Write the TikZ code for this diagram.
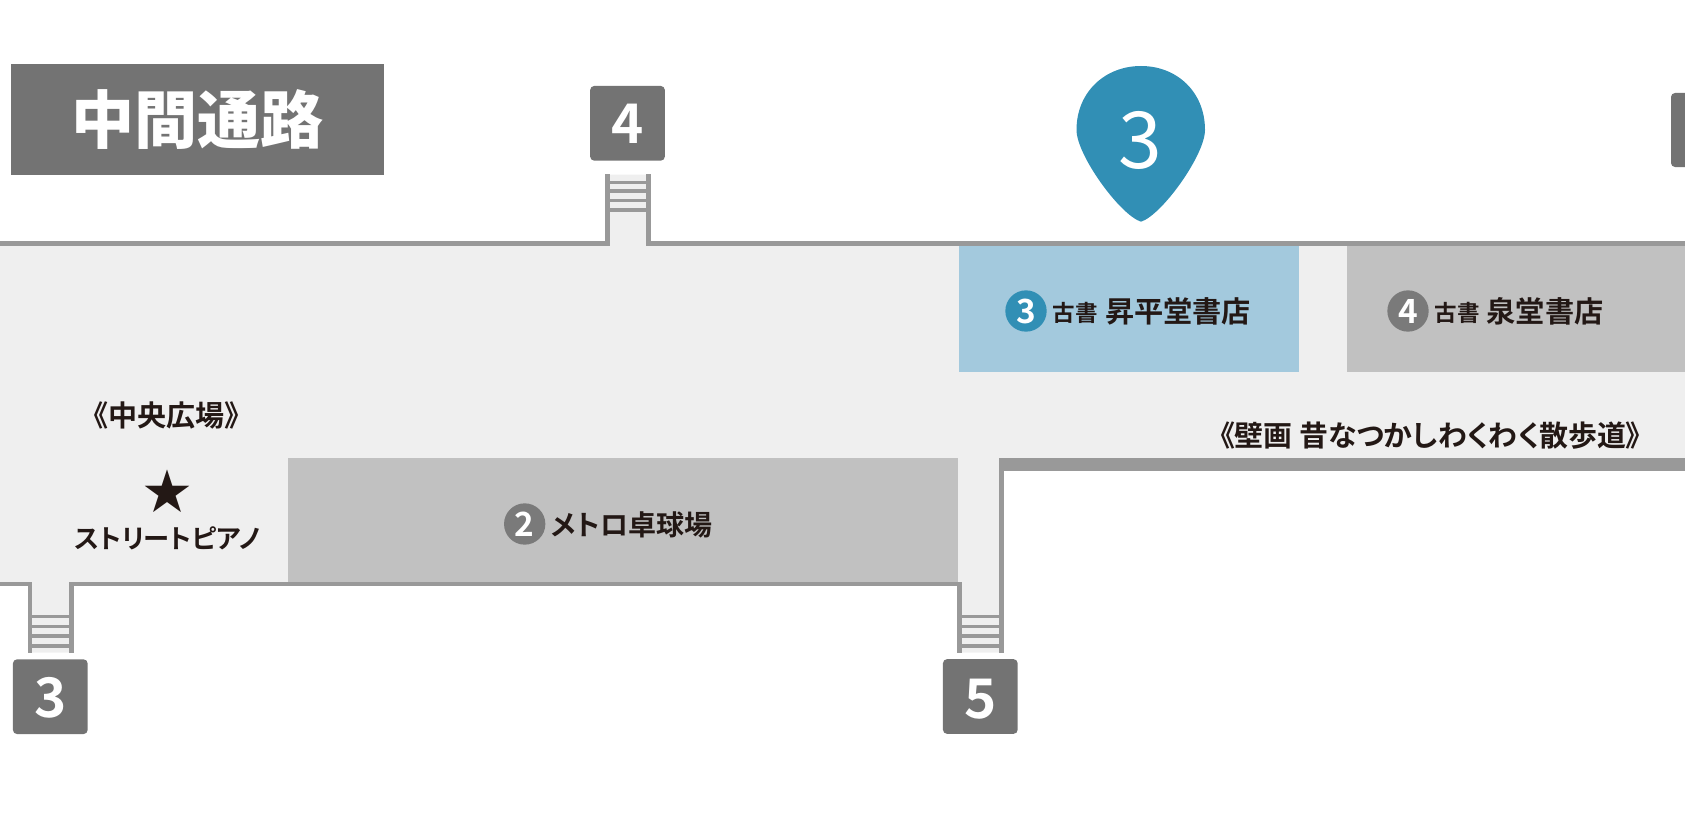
\documentclass[tikz,border=0pt]{standalone}
\usepackage{fontspec}
\setmainfont{Noto Sans CJK JP}[BoldFont={* Bold},RawFeature=+palt]
\newfontfamily\titlefont{Noto Sans CJK JP Black}
\definecolor{pinblue}{HTML}{318FB5}
\definecolor{roomblue}{HTML}{A3C9DD}
\definecolor{roomgray}{HTML}{C1C1C1}
\definecolor{floorgray}{HTML}{EFEFEF}
\definecolor{wallgray}{HTML}{999999}
\definecolor{exitgray}{HTML}{737373}
\definecolor{markgray}{HTML}{7A7A7A}
\definecolor{inkblack}{HTML}{231815}

\begin{document}
\begin{tikzpicture}[x=0.75pt, y=-0.75pt]
    \tikzset{wall/.style={draw=wallgray, line width=3.6pt, line join=miter}}
    \tikzset{rung/.style={draw=wallgray, line width=2.4pt}}
    \tikzset{room/.style={fill=roomgray}}
    \tikzset{exitbox/.style={fill=exitgray, rounded corners=3pt, minimum width=56pt, minimum height=56pt, inner sep=0pt, text=white, font=\fontsize{41}{41}\selectfont\bfseries}}
    \tikzset{markdot/.style={circle, fill=markgray, minimum size=31pt, inner sep=0pt, text=white, font=\fontsize{25}{25}\selectfont\bfseries}}
    \tikzset{small/.style={inner sep=0pt, text=inkblack, font=\fontsize{16.9}{16.9}\selectfont\bfseries}}
    \tikzset{shop/.style={inner sep=0pt, text=inkblack, font=\fontsize{21.9}{21.9}\selectfont\bfseries}}

    % page
    \useasboundingbox (0,0) rectangle (1685,817);
    \clip (0,0) rectangle (1685,817);

    % floor
    \fill[floorgray] (0,245) -- (609,245) -- (609,174.5) -- (647,174.5) -- (647,245) -- (1685,245)
      -- (1685,458) -- (1001,458) -- (1001,652.5) -- (960,652.5) -- (960,583) -- (71,583)
      -- (71,652.5) -- (30,652.5) -- (30,583) -- (0,583) -- cycle;

    % rooms
    \fill[roomblue] (959,245.7) rectangle (1298.5,371.7);
    \fill[room] (1346.5,245.7) rectangle (1685,371.7);
    \fill[room] (288,458) rectangle (957.5,582);

    % walls
    \draw[wall] (0,243.4) -- (607.3,243.4) -- (607.3,174.3);
    \draw[wall] (1685,243.4) -- (648.7,243.4) -- (648.7,174.3);
    \draw[wall] (0,584) -- (29.9,584) -- (29.9,652.5);
    \draw[wall] (71.4,652.5) -- (71.4,584) -- (959.8,584) -- (959.8,652.5);
    \draw[wall] (1001.2,652.5) -- (1001.2,464);
    \fill[wallgray] (998.7,457.7) rectangle (1685,470.7);

    % stairs
    \draw[rung] (609,182.7) -- (647,182.7);
    \draw[rung] (609,191) -- (647,191);
    \draw[rung] (609,200.3) -- (647,200.3);
    \draw[rung] (609,210) -- (647,210);
    \draw[rung] (32,616.7) -- (69,616.7);
    \draw[rung] (32,626.3) -- (69,626.3);
    \draw[rung] (32,636) -- (69,636);
    \draw[rung] (32,646) -- (69,646);
    \draw[rung] (962,616.7) -- (999,616.7);
    \draw[rung] (962,626.3) -- (999,626.3);
    \draw[rung] (962,636) -- (999,636);
    \draw[rung] (962,646) -- (999,646);

    % title
    \node (title) at (197.3,119.3) [fill=exitgray, minimum width=279.5pt, minimum height=83pt, inner sep=0pt,
      text=white, font=\fontsize{47.3}{47.3}\titlefont] {中間通路};

    % exits
    \node (exit4) at (627.5,123.3) [exitbox] {4};
    \node (exit3) at (50.3,696.7) [exitbox, text height=32pt] {3};
    \node (exit5) at (980.3,696.5) [exitbox, text height=33pt] {5};
    \fill[exitgray, rounded corners=3pt] (1690,93) -- (1671,93) -- (1671,167) -- (1690,167) -- cycle;

    % pin
    \fill[pinblue] (1141,221.7) .. controls (1120,215) and (1076.5,155) .. (1076.5,130)
      .. controls (1076.5,92) and (1105,66) .. (1141,66)
      .. controls (1177,66) and (1205,92) .. (1205,130)
      .. controls (1205,155) and (1162,215) .. (1141,221.7) -- cycle;
    \node (pin3) at (1140,140) [inner sep=0pt, text=white, font=\fontsize{59}{59}\selectfont] {3};

    % shop 3
    \node (mark3) at (1026,311) [markdot, fill=pinblue] {3};
    \node (old3) at (1075,313) [small] {古書};
    \node (shop3) at (1178,311.5) [shop] {昇平堂書店};

    % shop 4
    \node (mark4) at (1408,311) [markdot] {4};
    \node (old4) at (1457.5,313) [small] {古書};
    \node (shop4) at (1545,311.5) [shop] {泉堂書店};

    % table tennis
    \node (mark2) at (524.7,524) [markdot] {2};
    \node (shop2) at (632,524.5) [shop, font=\fontsize{21}{21}\selectfont\bfseries] {メトロ卓球場};

    % plaza
    \node (plaza) at (166.5,415) [shop, font=\fontsize{21.8}{21.8}\selectfont\bfseries] {《中央広場》};
    \node (star) at (167.5,491.5) [inner sep=0pt, text=inkblack, font=\fontsize{36}{36}\selectfont] {★};
    \node (piano) at (167.5,538.5) [shop, font=\fontsize{19.7}{19.7}\selectfont\bfseries] {ストリートピアノ};

    % mural
    \node (mural) at (1430.5,436) [shop, font=\fontsize{21.7}{21.7}\selectfont\bfseries] {《壁画 昔なつかしわくわく散歩道》};

\end{tikzpicture}
\end{document}
